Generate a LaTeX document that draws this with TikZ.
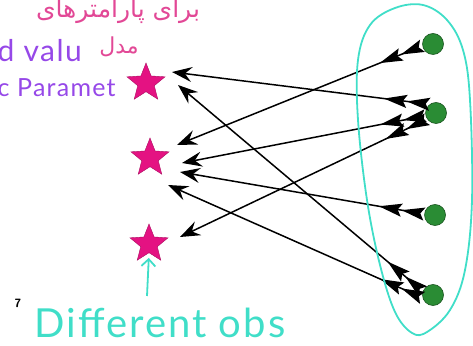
\documentclass[tikz,border=0pt]{standalone}
\usepackage{fontspec}
\setmainfont{Lato}
\newfontfamily\handfont[LetterSpace=5.0]{Lato}
\newfontfamily\farsi[Script=Arabic]{DejaVu Sans}
\TeXXeTstate=1
\usetikzlibrary{arrows.meta,shapes.geometric}

\definecolor{starpink}{RGB}{228,18,130}
\definecolor{dotgreen}{RGB}{42,140,52}
\definecolor{loopcyan}{RGB}{64,222,200}
\definecolor{notepink}{RGB}{226,72,150}
\definecolor{notepurple}{RGB}{150,72,232}

\tikzset{
    fletch/.tip={Stealth[reversed, length=23pt, width=13pt, inset=4pt]},
    barb/.tip={Stealth[length=20pt, width=15pt, inset=7pt]},
    obs/.style={star, star points=5, star point ratio=2.3, minimum size=40pt,
        inner sep=0pt, fill=starpink, draw=starpink!75!black, line width=0.4pt},
    param/.style={circle, minimum size=21pt, inner sep=0pt,
        fill=dotgreen, draw=dotgreen!60!black, line width=0.6pt},
    feather/.style={line width=1.5pt, arrows={{fletch[] fletch[]}-{barb[]}}},
}

\begin{document}
\begin{tikzpicture}[x=1pt, y=1pt]
        \useasboundingbox (0,0) rectangle (473,345);

        % stars and dots
        \node[obs] (s1) at (146,262) {};
        \node[obs] (s2) at (150,187) {};
        \node[obs] (s3) at (149,101) {};

        \node[param] (d1) at (433,301) {};
        \node[param] (d2) at (436,232) {};
        \node[param] (d3) at (435,130) {};
        \node[param] (d4) at (433,50) {};

        % arrow heads
        \coordinate (h1) at (172,273);
        \coordinate (h2) at (178,260);
        \coordinate (h3) at (177,200);
        \coordinate (h4) at (182,182);
        \coordinate (h5) at (180,173);
        \coordinate (h6) at (168,160);
        \coordinate (h7) at (180,108);

        \draw[feather] (d2.126) -- (h1);
        \draw[feather] (d4.160) -- (h2);
        \draw[feather] (d1.190) -- (h3);
        \draw[feather] (d2.195) -- (h4);
        \draw[feather] (d3.175) -- (h5);
        \draw[feather] (d4.195) -- (h6);
        \draw[feather] (d2.215) -- (h7);

        % loop round the dots
        \draw[loopcyan, line width=1.8pt] plot[smooth cycle, tension=0.6] coordinates {
            (423,340) (447,325) (463,295) (470,245) (472,145) (465,75)
            (450,35) (427,13) (412,12) (395,33) (380,80) (367,145)
            (358,225) (358,285) (370,320) (395,337)};

        % notes
        \node[notepink, font=\farsi\fontsize{25}{28}\selectfont] (top) at (118,334)
            {\beginR برای پارامترهای\endR};
        \node[notepink, font=\farsi\fontsize{22}{26}\selectfont] (model) at (119,298)
            {\beginR مدل\endR};
        \node[notepurple, font=\handfont\fontsize{30}{34}\selectfont, anchor=west] (val) at (-6,294)
            {d valu};
        \node[notepurple, font=\handfont\fontsize{25}{28}\selectfont, anchor=west] (par) at (-6,257)
            {c Paramet};

        \node[loopcyan, font=\handfont\fontsize{40}{44}\selectfont] (diff) at (160,22) {Different obs};
        \coordinate (up) at (147,49);
        \draw[loopcyan, line width=1.8pt, shorten >=5pt, -{Straight Barb[length=7pt,width=14pt]}] (up) -- (s3.south);

        \node[font=\sffamily\bfseries\fontsize{12}{14}\selectfont] (page) at (18,42) {7};
\end{tikzpicture}
\end{document}
